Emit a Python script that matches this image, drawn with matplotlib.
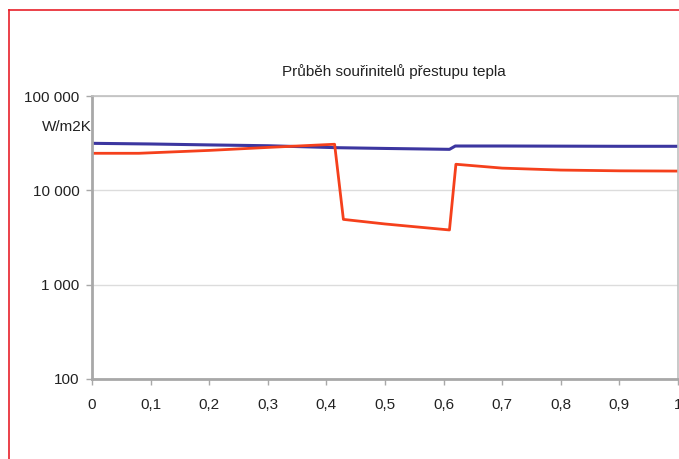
import matplotlib
matplotlib.use("Agg")
import matplotlib.pyplot as plt
from matplotlib.lines import Line2D
from matplotlib.ticker import FixedLocator, FixedFormatter, NullLocator

plt.rcParams['font.family'] = ['Liberation Sans', 'DejaVu Sans']

title = "Průběh souřinitelů přestupu tepla"
unit_label = "W/m2K"

# Heat transfer coefficient along the length (W/m2K)
x_blue = [0.0, 0.1, 0.2, 0.3, 0.42, 0.5, 0.61, 0.62, 0.7, 0.8, 0.9, 1.0]
y_blue = [31500, 31000, 30300, 29700, 28300, 27800, 27200, 29500, 29500, 29400, 29300, 29300]

x_red = [0.0, 0.08, 0.2, 0.3, 0.414, 0.429, 0.5, 0.61, 0.621, 0.7, 0.8, 0.9, 1.0]
y_red = [24700, 24700, 26500, 28500, 30800, 4920, 4400, 3800, 18900, 17200, 16400, 16100, 16000]

x_ticks = [0, 0.1, 0.2, 0.3, 0.4, 0.5, 0.6, 0.7, 0.8, 0.9, 1.0]
x_labels = ["0", "0,1", "0,2", "0,3", "0,4", "0,5", "0,6", "0,7", "0,8", "0,9", "1"]
y_ticks = [100, 1000, 10000, 100000]
y_labels = ["100", "1 000", "10 000", "100 000"]

W, H = 679, 459
fig = plt.figure(figsize=(W / 100, H / 100), dpi=100)
fig.patch.set_facecolor("white")

ax = fig.add_axes([92 / W, 1 - 379 / H, (678 - 92) / W, (379 - 96) / H])
ax.set_yscale("log")
ax.set_xlim(0, 1)
ax.set_ylim(100, 100000)

spine_c = "#a8a8a8"
for s in ["left", "bottom", "top", "right"]:
    ax.spines[s].set_color(spine_c)
ax.spines["left"].set_linewidth(2)
ax.spines["bottom"].set_linewidth(2)
ax.spines["top"].set_linewidth(1.2)
ax.spines["right"].set_linewidth(1.2)
ax.spines["top"].set_color("#c0c0c0")
ax.spines["right"].set_color("#c0c0c0")

ax.xaxis.set_major_locator(FixedLocator(x_ticks))
ax.xaxis.set_major_formatter(FixedFormatter(x_labels))
ax.yaxis.set_major_locator(FixedLocator(y_ticks))
ax.yaxis.set_major_formatter(FixedFormatter(y_labels))
ax.yaxis.set_minor_locator(NullLocator())
ax.xaxis.set_minor_locator(NullLocator())
ax.tick_params(axis="both", colors=spine_c, labelcolor="#222222", labelsize=11,
               length=4, width=1)
ax.tick_params(axis="x", pad=10)
ax.tick_params(axis="y", pad=5)

ax.grid(axis="y", color="#dcdcdc", linewidth=1)
ax.set_axisbelow(True)

ax.plot(x_blue, y_blue, color="#3c36a0", linewidth=2.2, solid_joinstyle="round")
ax.plot(x_red, y_red, color="#f5401c", linewidth=2.0, solid_joinstyle="round")

fig.text(394 / W, 1 - 72 / H, title, ha="center", va="center", fontsize=11, color="#222222")
fig.text(42 / W, 1 - 127 / H, unit_label, ha="left", va="center", fontsize=11, color="#222222")

# red frame around the chart area
fig.add_artist(Line2D([8.5 / W, 8.5 / W], [0, 1 - 10 / H], color="#e8202a", linewidth=1.2,
                      transform=fig.transFigure))
fig.add_artist(Line2D([8.5 / W, 1], [1 - 10 / H, 1 - 10 / H], color="#e8202a", linewidth=1.2,
                      transform=fig.transFigure))

fig.savefig("out.png", dpi=100)
